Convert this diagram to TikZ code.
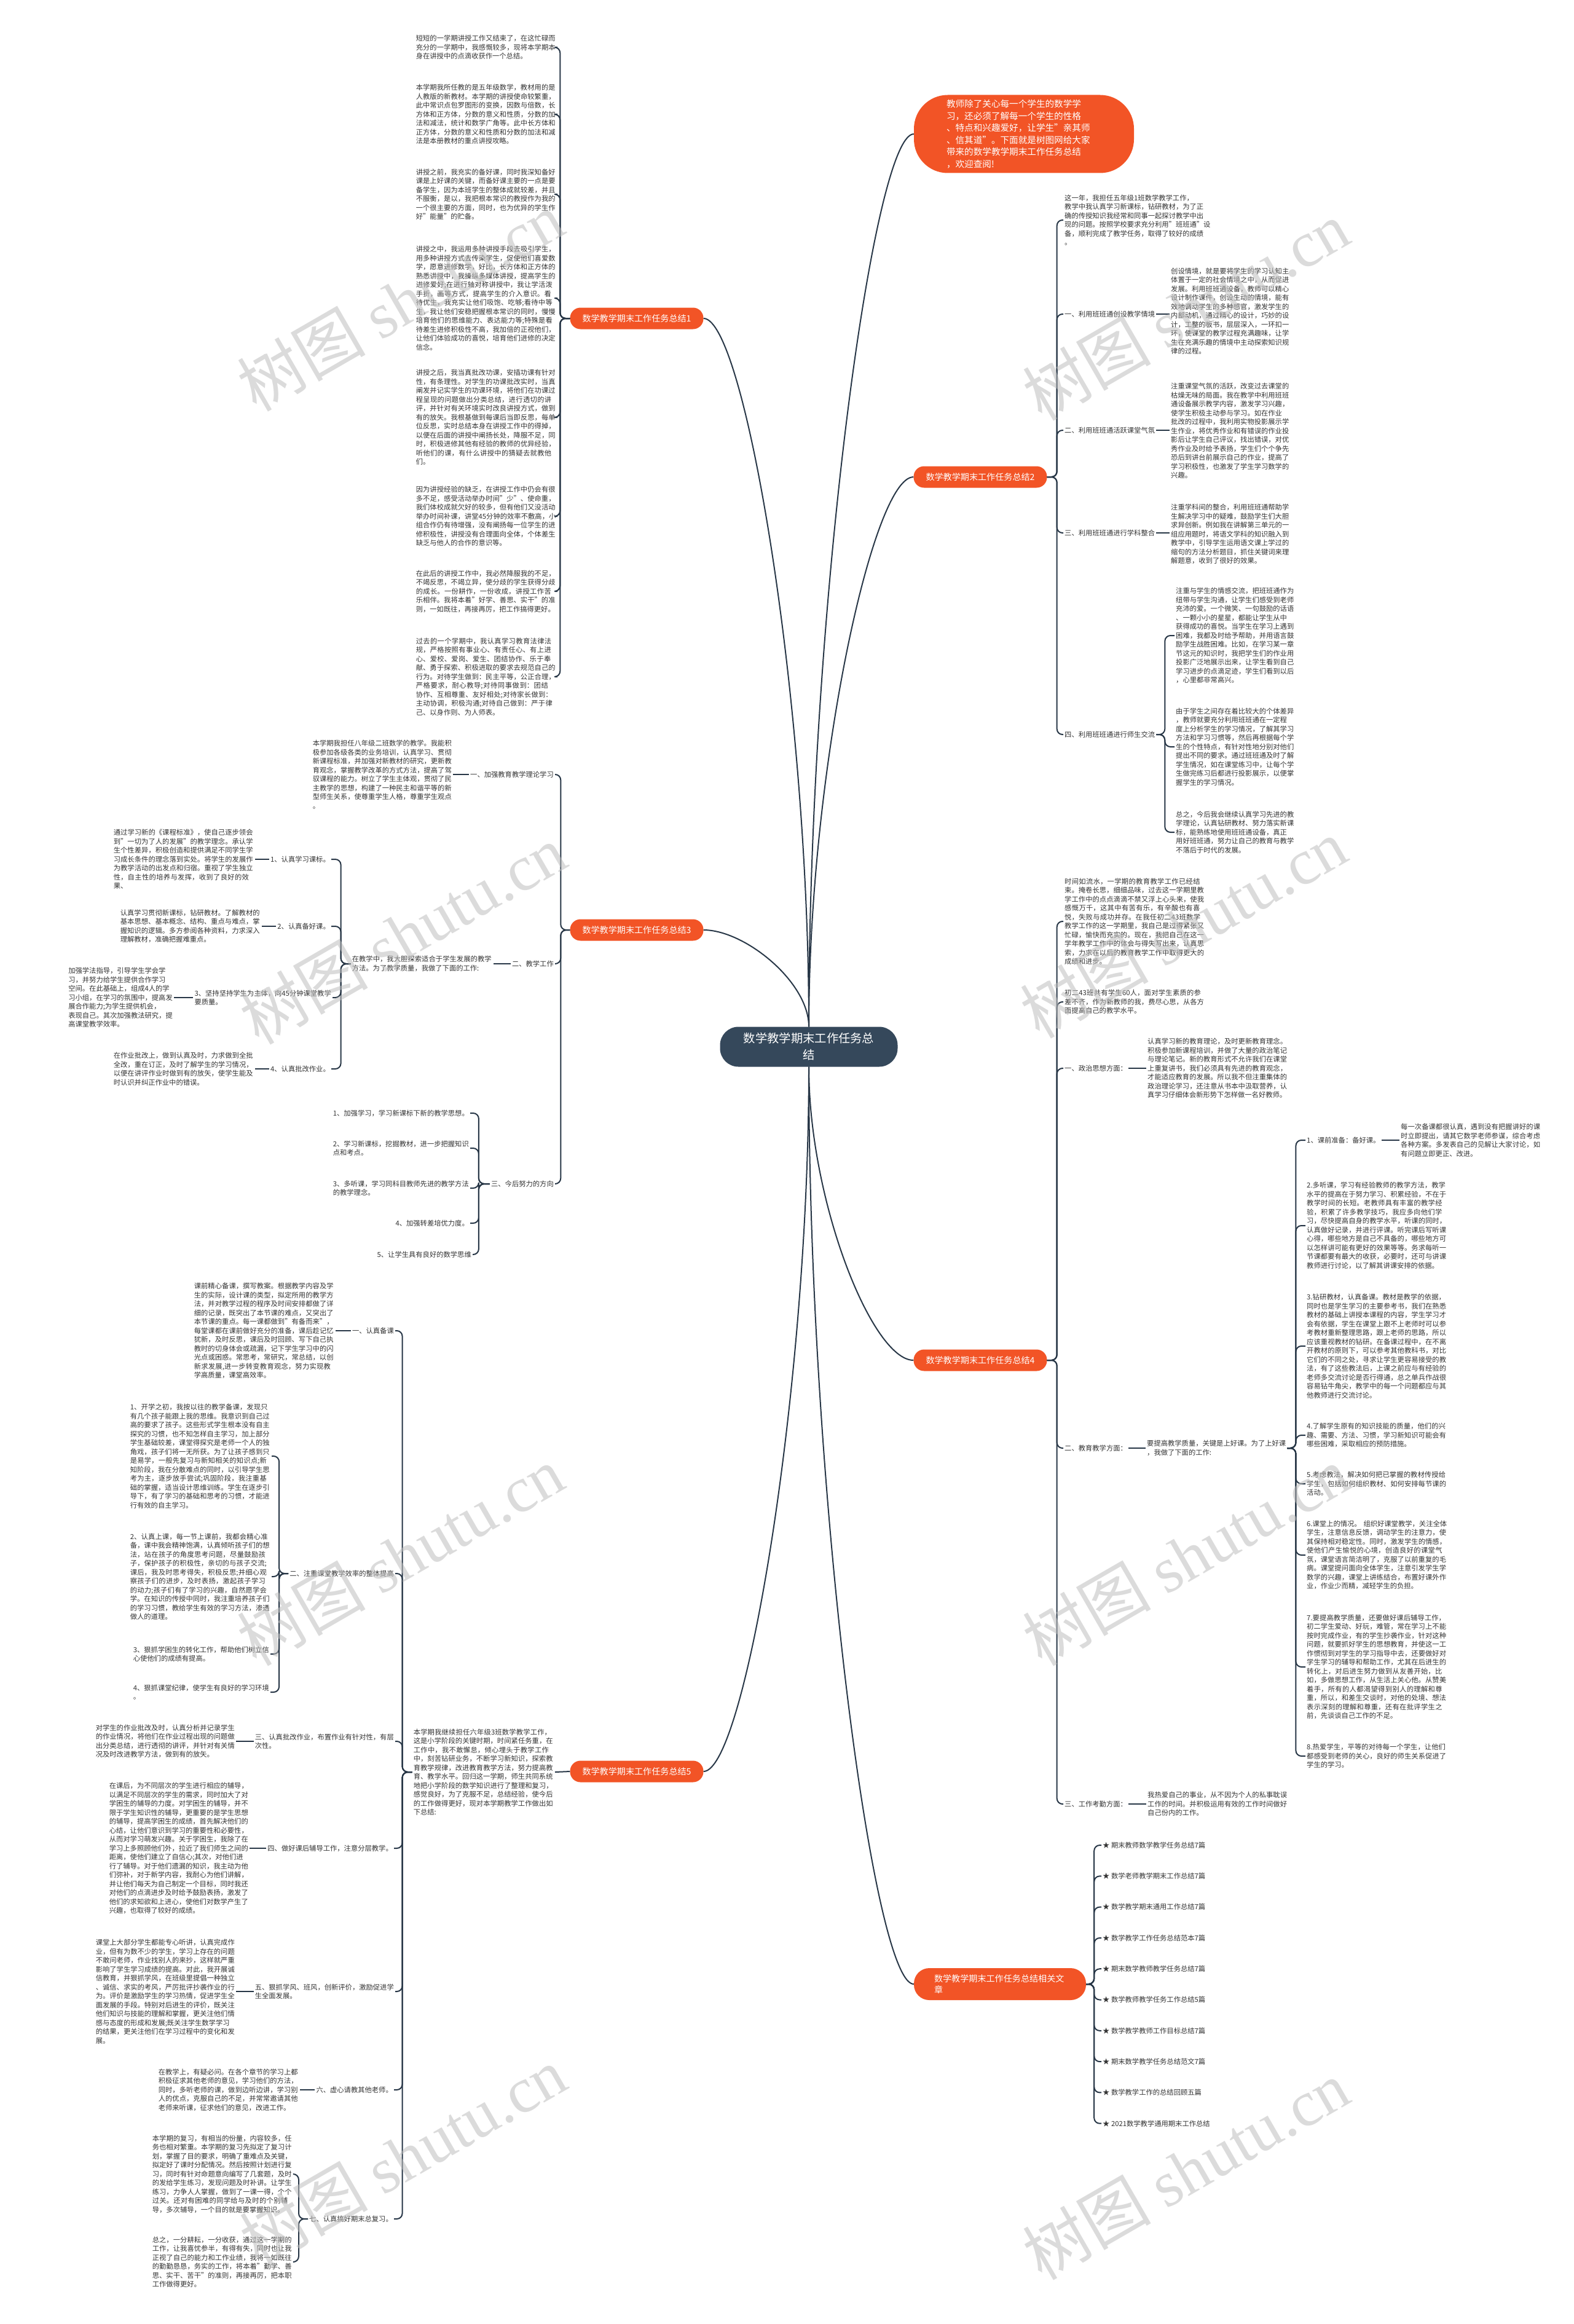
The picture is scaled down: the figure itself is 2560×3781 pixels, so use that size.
\documentclass[tikz,border=0pt]{standalone}
\usepackage{fontspec}
\setmainfont{Noto Sans CJK SC}
\newfontfamily\wmfont{Liberation Serif}
\usetikzlibrary{positioning}
\XeTeXlinebreaklocale "zh"
\XeTeXlinebreakskip=0pt plus 1pt
\definecolor{linec}{RGB}{40,55,71}
\definecolor{textc}{RGB}{51,51,51}
\definecolor{branchc}{RGB}{242,84,38}
\definecolor{rootc}{RGB}{53,72,91}
\definecolor{wmc}{RGB}{190,190,190}
\tikzset{
  link/.style={draw=linec, line width=2pt, rounded corners=9pt},
  txt/.style={font=\fontsize{11.3}{14.5}\selectfont, text=textc, text width=228pt, align=left, inner sep=2pt},
  para/.style={font=\fontsize{11.3}{14.5}\selectfont, text=textc, align=left, inner sep=2pt},
  lbl/.style={font=\fontsize{11.3}{14.5}\selectfont, text=textc, inner sep=2pt},
  branch/.style={fill=branchc, text=white, font=\fontsize{14.1}{18}\selectfont, rounded corners=17pt, minimum width=217pt, minimum height=35pt, inner sep=0pt},
  rootbox/.style={fill=rootc, text=white, font=\fontsize{19.3}{27}\selectfont, rounded corners=30pt, minimum width=289pt, minimum height=65pt, text width=214pt, align=center, inner sep=0pt},
  introbox/.style={fill=branchc, text=white, font=\fontsize{14.6}{19.5}\selectfont, rounded corners=55pt, minimum width=358pt, minimum height=127pt, text width=240pt, align=left, inner sep=0pt},
  wmark/.style={text=wmc, opacity=0.55, rotate=30, font=\fontsize{105}{105}\selectfont}
}
\begin{document}
\begin{tikzpicture}[x=1pt,y=-1pt]
\useasboundingbox (0,0) rectangle (2560,3781);

% centre and main branches
\node[rootbox] (root) at (1316,1703) {数学教学期末工作任务总\\结};
\node[introbox] (intro) at (1666,218) {\hspace*{-6pt}教师除了关心每一个学生的数学学\\\hspace*{-6pt}习，还必须了解每一个学生的性格\\\hspace*{-6pt}、特点和兴趣爱好，让学生"亲其师\\\hspace*{-6pt}、信其道"。下面就是树图网给大家\\\hspace*{-6pt}带来的数学教学期末工作任务总结\\\hspace*{-6pt}，欢迎查阅!};
\node[branch] (b1) at (1036,518) {数学教学期末工作任务总结1};
\node[branch] (b2) at (1595,776) {数学教学期末工作任务总结2};
\node[branch] (b3) at (1036,1513) {数学教学期末工作任务总结3};
\node[branch] (b4) at (1595,2213) {数学教学期末工作任务总结4};
\node[branch] (b5) at (1036,2882) {数学教学期末工作任务总结5};
\node[branch, minimum width=280pt, minimum height=52pt, text width=214pt, align=left, rounded corners=25pt] (rel) at (1627,3228) {数学教学期末工作任务总结相关文\\章};

\draw[link] (root.north) .. controls +(0,-668) and +(-67,0) .. (intro.west);
\draw[link] (root.north) .. controls +(0,-412) and +(-67,0) .. (b2.west);
\draw[link] (root.north) .. controls +(0,-530) and +(67,0) .. (b1.east);
\draw[link] (root.north) .. controls +(0,-73) and +(67,0) .. (b3.east);
\draw[link] (root.south) .. controls +(0,219) and +(-67,0) .. (b4.west);
\draw[link] (root.south) .. controls +(0,527) and +(67,0) .. (b5.east);
\draw[link] (root.south) .. controls +(0,686) and +(-67,0) .. (rel.west);

% branch 1
\node[txt, anchor=east] (t11) at (907,77) {短短的一学期讲授工作又结束了，在这忙碌而充分的一学期中，我感慨较多，现将本学期本身在讲授中的点滴收获作一个总结。};
\node[txt, anchor=east] (t12) at (907,186) {本学期我所任教的是五年级数学，教材用的是人教版的新教材。本学期的讲授使命较繁重，此中常识点包罗图形的变换，因数与倍数，长方体和正方体，分数的意义和性质，分数的加法和减法，统计和数学广角等。此中长方体和正方体，分数的意义和性质和分数的加法和减法是本册教材的重点讲授攻略。};
\node[txt, anchor=east] (t13) at (907,316) {讲授之前，我充实的备好课，同时我深知备好课是上好课的关键，而备好课主要的一点是要备学生，因为本班学生的整体成就较差，并且不服衡，是以，我把根本常识的教授作为我的一个很主要的方面，同时，也为优异的学生作好"能量"的贮备。};
\node[txt, anchor=east] (t14) at (907,485) {讲授之中，我运用多种讲授手段去吸引学生，用多种讲授方式去传染学生，促使他们喜爱数学，愿意进修数学，好比，长方体和正方体的熟悉讲授中，我操纵多媒体讲授，提高学生的进修爱好;在进行轴对称讲授中，我让学活泼手折，画等方式，提高学生的介入意识。看待优生，我充实让他们吸饱、吃够;看待中等生，我让他们安稳把握根本常识的同时，慢慢培育他们的思维能力、表达能力等;特殊是看待差生进修积极性不高，我加倍的正视他们，让他们体验成功的喜悦，培育他们进修的决定信念。};
\node[txt, anchor=east] (t15) at (907,679) {讲授之后，我当真批改功课，安插功课有针对性，有条理性。对学生的功课批改实时，当真阐发并记实学生的功课环境，将他们在功课过程呈现的问题做出分类总结，进行透切的讲评，并针对有关环境实时改良讲授方式，做到有的放矢。我根基做到每课后当即反思，每单位反思，实时总结本身在讲授工作中的得掉，以便在后面的讲授中阐扬长处，降服不足，同时，积极进修其他有经验的教师的优异经验，听他们的课，有什么讲授中的猜疑去就教他们。};
\node[txt, anchor=east] (t16) at (907,840) {因为讲授经验的缺乏，在讲授工作中仍会有很多不足，感受活动举办时间"少"、使命重，我们体校成就欠好的较多，但有他们又没活动举办时间补课，讲堂45分钟的效率不敷高，小组合作仍有待增强，没有阐扬每一位学生的进修积极性，讲授没有合理面向全体，个体差生缺乏与他人的合作的意识等。};
\node[txt, anchor=east] (t17) at (907,962) {在此后的讲授工作中，我必然降服我的不足，不竭反思，不竭立异，使分歧的学生获得分歧的成长。一份耕作，一份收成，讲授工作苦乐相伴。我将本着"好学、善思、实干"的准则，一如既往，再接再厉，把工作搞得更好。};
\node[txt, anchor=east] (t18) at (907,1101) {过去的一个学期中，我认真学习教育法律法规，严格按照有事业心、有责任心、有上进心、爱校、爱岗、爱生、团结协作、乐于奉献、勇于探索、积极进取的要求去规范自己的行为。对待学生做到：民主平等，公正合理，严格要求，耐心教导;对待同事做到：团结协作、互相尊重、友好相处;对待家长做到：主动协调，积极沟通;对待自己做到：严于律己、以身作则、为人师表。};
\foreach \c in {t11,t12,t13,t14,t15,t16,t17,t18}
  \draw[link] (b1.west) -- ++(-16,0) |- (\c.east);

% branch 2
\node[para, anchor=west] (t20) at (1730,358) {这一年，我担任五年级1班数学教学工作，\\教学中我认真学习新课标，钻研教材，为了正\\确的传授知识我经常和同事一起探讨教学中出\\现的问题。按照学校要求充分利用"班班通"设\\备，顺利完成了教学任务，取得了较好的成绩\\。};
\node[lbl, anchor=west] (l21) at (1730,511) {一、利用班班通创设教学情境};
\node[lbl, anchor=west] (l22) at (1730,700) {二、利用班班通活跃课堂气氛};
\node[lbl, anchor=west] (l23) at (1730,867) {三、利用班班通进行学科整合};
\node[lbl, anchor=west] (l24) at (1730,1195) {四、利用班班通进行师生交流};
\node[para, anchor=west] (t21) at (1903,506) {创设情境，就是要将学生的学习认知主\\体置于一定的社会情境之中，从而促进\\发展。利用班班通设备，教师可以精心\\设计制作课件，创设生动的情境，能有\\效地调动学生的多种感官，激发学生的\\内部动机，通过精心的设计，巧妙的设\\计，工整的板书，层层深入，一环扣一\\环，使课堂的教学过程充满趣味，让学\\生在充满乐趣的情境中主动探索知识规\\律的过程。};
\node[para, anchor=west] (t22) at (1903,701) {注重课堂气氛的活跃，改变过去课堂的\\枯燥无味的局面。我在教学中利用班班\\通设备展示教学内容，激发学习兴趣，\\使学生积极主动参与学习。如在作业\\批改的过程中，我利用实物投影展示学\\生作业，将优秀作业和有错误的作业投\\影后让学生自己评议，找出错误，对优\\秀作业及时给予表扬，学生们个个争先\\恐后到讲台前展示自己的作业，提高了\\学习积极性，也激发了学生学习数学的\\兴趣。};
\node[para, anchor=west] (t23) at (1903,869) {注重学科间的整合，利用班班通帮助学\\生解决学习中的疑难，鼓励学生们大胆\\求异创新。例如我在讲解第三单元的一\\组应用题时，将语文学科的知识融入到\\教学中，引导学生运用语文课上学过的\\缩句的方法分析题目，抓住关键词来理\\解题意，收到了很好的效果。};
\node[para, anchor=west] (t24a) at (1911,1034) {注重与学生的情感交流，把班班通作为\\纽带与学生沟通，让学生们感受到老师\\充沛的爱。一个微笑、一句鼓励的话语\\、一颗小小的星星，都能让学生从中\\获得成功的喜悦。当学生在学习上遇到\\困难，我都及时给予帮助，并用语言鼓\\励学生战胜困难。比如，在学习某一章\\节这元的知识时，我把学生们的作业用\\投影广泛地展示出来，让学生看到自己\\学习进步的点滴足迹，学生们看到以后\\，心里都非常高兴。};
\node[para, anchor=west] (t24b) at (1911,1215) {由于学生之间存在着比较大的个体差异\\，教师就要充分利用班班通在一定程\\度上分析学生的学习情况，了解其学习\\方法和学习习惯等，然后再根据每个学\\生的个性特点，有针对性地分别对他们\\提出不同的要求。通过班班通及时了解\\学生情况，如在课堂练习中，让每个学\\生做完练习后都进行投影展示，以便掌\\握学生的学习情况。};
\node[para, anchor=west] (t24c) at (1911,1354) {总之，今后我会继续认真学习先进的教\\学理论，认真钻研教材、努力落实新课\\标，能熟练地使用班班通设备，真正\\用好班班通，努力让自己的教育与教学\\不落后于时代的发展。};
\foreach \c in {t20,l21,l22,l23,l24}
  \draw[link] (b2.east) -- ++(16,0) |- (\c.west);
\draw[link] (l21.east) -- (l21.east -| t21.west);
\draw[link] (l22.east) -- (l22.east -| t22.west);
\draw[link] (l23.east) -- (l23.east -| t23.west);
\foreach \c in {t24a,t24b,t24c}
  \draw[link] (l24.east) -- ++(14,0) |- (\c.west);

% branch 3
\node[lbl, anchor=east] (l31) at (903,1260) {一、加强教育教学理论学习};
\node[lbl, anchor=east] (l32) at (903,1568) {二、教学工作};
\node[lbl, anchor=east] (l33) at (903,1926) {三、今后努力的方向};
\node[para, anchor=east] (t31) at (737,1260) {本学期我担任八年级二班数学的教学。我能积\\极参加各级各类的业务培训，认真学习、贯彻\\新课程标准，并加强对新教材的研究，更新教\\育观念，掌握教学改革的方式方法，提高了驾\\驭课程的能力。树立了学生主体观，贯彻了民\\主教学的思想，构建了一种民主和谐平等的新\\型师生关系，使尊重学生人格，尊重学生观点\\。};
\node[txt, anchor=east] (t32) at (803,1568) {在教学中，我大胆探索适合于学生发展的教学方法。为了教学质量，我做了下面的工作:};
\node[lbl, anchor=east] (i321) at (539,1398) {1、认真学习课标。};
\node[lbl, anchor=east] (i322) at (539,1507) {2、认真备好课。};
\node[para, anchor=east] (i323) at (541,1623) {3、坚持坚持学生为主体，向45分钟课堂教学\\要质量。};
\node[lbl, anchor=east] (i324) at (539,1739) {4、认真批改作业。};
\node[txt, anchor=east] (t321) at (415,1398) {通过学习新的《课程标准》，使自己逐步领会到"一切为了人的发展"的教学理念。承认学生个性差异，积极创造和提供满足不同学生学习成长条件的理念落到实处。将学生的发展作为教学活动的出发点和归宿。重视了学生独立性，自主性的培养与发挥，收到了良好的效果、};
\node[txt, anchor=east] (t322) at (426,1507) {认真学习贯彻新课标，钻研教材。了解教材的基本思想、基本概念、结构、重点与难点，掌握知识的逻辑。多方参阅各种资料，力求深入理解教材，准确把握难重点。};
\node[para, anchor=east] (t323) at (283,1623) {加强学法指导，引导学生学会学\\习，并努力给学生提供合作学习\\空间。在此基础上，组成4人的学\\习小组，在学习的氛围中，提高发\\展合作能力;为学生提供机会，\\表现自己。其次加强教法研究，提\\高课堂教学效率。};
\node[txt, anchor=east] (t324) at (415,1739) {在作业批改上，做到认真及时，力求做到全批全改，重在订正，及时了解学生的学习情况，以便在讲评作业时做到有的放矢，使学生能及时认识并纠正作业中的错误。};
\node[lbl, anchor=east] (i331) at (765,1811) {1、加强学习，学习新课标下新的教学思想。};
\node[para, anchor=east] (i332) at (765,1868) {2、学习新课标，挖掘教材，进一步把握知识\\点和考点。};
\node[para, anchor=east] (i333) at (765,1933) {3、多听课，学习同科目教师先进的教学方法\\的教学理念。};
\node[lbl, anchor=east] (i334) at (765,1990) {4、加强转差培优力度。};
\node[lbl, anchor=east] (i335) at (769,2041) {5、让学生具有良好的数学思维};
\foreach \c in {l31,l32,l33}
  \draw[link] (b3.west) -- ++(-15,0) |- (\c.east);
\draw[link] (l31.west) -- (t31.east);
\draw[link] (l32.west) -- (t32.east);
\foreach \c in {i321,i322,i323,i324}
  \draw[link] (t32.west) -- ++(-16,0) |- (\c.east);
\draw[link] (i321.west) -- (t321.east);
\draw[link] (i322.west) -- (t322.east);
\draw[link] (i323.west) -- (t323.east);
\draw[link] (i324.west) -- (t324.east);
\foreach \c in {i331,i332,i333,i334,i335}
  \draw[link] (l33.west) -- ++(-18,0) |- (\c.east);

% branch 4
\node[txt, anchor=west] (t40) at (1730,1499) {时间如流水，一学期的教育教学工作已经结束。掩卷长思，细细品味，过去这一学期里教学工作中的点点滴滴不禁又浮上心头来，使我感慨万千，这其中有苦有乐，有辛酸也有喜悦，失败与成功并存。在我任初二43班数学教学工作的这一学期里，我自己是过得紧张又忙碌，愉快而充实的。现在，我把自己在这一学年教学工作中的体会与得失写出来，认真思索，力求在以后的教育教学工作中取得更大的成绩和进步。};
\node[txt, anchor=west] (t41) at (1730,1630) {初二43班共有学生60人，面对学生素质的参差不齐，作为新教师的我，费尽心思，从各方面提高自己的教学水平。};
\node[lbl, anchor=west] (l41) at (1730,1738) {一、政治思想方面：};
\node[lbl, anchor=west] (l42) at (1730,2356) {二、教育教学方面：};
\node[lbl, anchor=west] (l43) at (1730,2935) {三、工作考勤方面：};
\node[txt, anchor=west] (t41x) at (1865,1738) {认真学习新的教育理论，及时更新教育理念。积极参加新课程培训，并做了大量的政治笔记与理论笔记。新的教育形式不允许我们在课堂上重复讲书，我们必须具有先进的教育观念，才能适应教育的发展。所以我不但注重集体的政治理论学习，还注意从书本中汲取营养，认真学习仔细体会新形势下怎样做一名好教师。};
\node[para, anchor=west] (t42) at (1864,2356) {要提高教学质量，关键是上好课。为了上好课\\，我做了下面的工作:};
\node[txt, anchor=west] (t43) at (1865,2935) {我热爱自己的事业，从不因为个人的私事耽误工作的时间。并积极运用有效的工作时间做好自己份内的工作。};
\node[lbl, anchor=west] (q1) at (2124,1855) {1、课前准备：备好课。};
\node[txt, anchor=west] (q1x) at (2277,1855) {每一次备课都很认真，遇到没有把握讲好的课时立即提出，请其它数学老师参谋，综合考虑各种方案。多发表自己的见解让大家讨论，如有问题立即更正、改进。};
\node[txt, anchor=west] (q2) at (2124,1994) {2.多听课，学习有经验教师的教学方法，教学水平的提高在于努力学习、积累经验，不在于教学时间的长短。老教师具有丰富的教学经验，积累了许多教学技巧，我应多向他们学习，尽快提高自身的教学水平，听课的同时，认真做好记录，并进行评课。听完课后写听课心得，哪些地方是自己不具备的，哪些地方可以怎样讲可能有更好的效果等等。务求每听一节课都要有最大的收获，必要时，还可与讲课教师进行讨论，以了解其讲课安排的依据。};
\node[txt, anchor=west] (q3) at (2124,2190) {3.钻研教材，认真备课。教材是教学的依据，同时也是学生学习的主要参考书，我们在熟悉教材的基础上讲授本课程的内容，学生学习才会有依据，学生在课堂上跟不上老师时可以参考教材重新整理思路，跟上老师的思路，所以应该重视教材的钻研。在备课过程中，在不离开教材的原则下，可以参考其他教科书，对比它们的不同之处，寻求让学生更容易接受的教法，有了这些教法后，上课之前应与有经验的老师多交流讨论是否行得通，总之单兵作战很容易钻牛角尖，教学中的每一个问题都应与其他教师进行交流讨论。};
\node[txt, anchor=west] (q4) at (2124,2335) {4.了解学生原有的知识技能的质量，他们的兴趣、需要、方法、习惯，学习新知识可能会有哪些困难，采取相应的预防措施。};
\node[txt, anchor=west] (q5) at (2124,2414) {5.考虑教法，解决如何把已掌握的教材传授给学生，包括如何组织教材、如何安排每节课的活动。};
\node[txt, anchor=west] (q6) at (2124,2530) {6.课堂上的情况。 组织好课堂教学，关注全体学生，注意信息反馈，调动学生的注意力，使其保持相对稳定性。同时，激发学生的情感，使他们产生愉悦的心境，创造良好的课堂气氛，课堂语言简洁明了，克服了以前重复的毛病。课堂提问面向全体学生，注意引发学生学数学的兴趣，课堂上讲练结合，布置好课外作业，作业少而精，减轻学生的负担。};
\node[txt, anchor=west] (q7) at (2124,2712) {7.要提高教学质量，还要做好课后辅导工作，初二学生爱动、好玩，难管，常在学习上不能按时完成作业，有的学生抄袭作业，针对这种问题，就要抓好学生的思想教育，并使这一工作惯彻到对学生的学习指导中去，还要做好对学生学习的辅导和帮助工作，尤其在后进生的转化上，对后进生努力做到从友善开始，比如，多做思想工作，从生活上关心他。从赞美着手，所有的人都渴望得到别人的理解和尊重，所以，和差生交谈时，对他的处境、想法表示深刻的理解和尊重，还有在批评学生之前，先谈谈自己工作的不足。};
\node[txt, anchor=west] (q8) at (2124,2857) {8.热爱学生，平等的对待每一个学生，让他们都感受到老师的关心，良好的师生关系促进了学生的学习。};
\foreach \c in {t40,t41,l41,l42,l43}
  \draw[link] (b4.east) -- ++(16,0) |- (\c.west);
\draw[link] (l41.east) -- (t41x.west);
\draw[link] (l42.east) -- (t42.west);
\draw[link] (l43.east) -- (t43.west);
\foreach \c in {q1,q2,q3,q4,q5,q6,q7,q8}
  \draw[link] (t42.east) ++(14,0) coordinate (qs) (t42.east) -- (qs) |- (\c.west);
\draw[link] (q1.east) -- (q1x.west);

% branch 5
\node[txt, anchor=east] (t5) at (903,2883) {本学期我继续担任六年级3班数学教学工作，这是小学阶段的关键时期，时间紧任务重，在工作中，我不敢懈怠，倾心埋头于教学工作中，刻苦钻研业务，不断学习新知识，探索教育教学规律，改进教育教学方法，努力提高教育、教学水平。回归这一学期，师生共同系统地把小学阶段的数学知识进行了整理和复习，感觉良好，为了克服不足，总结经验，使今后的工作做得更好，现对本学期教学工作做出如下总结:};
\node[lbl, anchor=east] (i51) at (643,2165) {一、认真备课};
\node[lbl, anchor=east] (i52) at (643,2560) {二、注重课堂教学效率的整体提高};
\node[para, anchor=east] (i53) at (643,2833) {三、认真批改作业，布置作业有针对性，有层\\次性。};
\node[lbl, anchor=east] (i54) at (641,3007) {四、做好课后辅导工作，注意分层教学。};
\node[para, anchor=east] (i55) at (643,3240) {五、狠抓学风、班风，创新评价，激励促进学\\生全面发展。};
\node[lbl, anchor=east] (i56) at (641,3400) {六、虚心请教其他老师。};
\node[lbl, anchor=east] (i57) at (641,3610) {七、认真搞好期末总复习。};
\node[txt, anchor=east] (t51) at (546,2165) {课前精心备课，撰写教案。根据教学内容及学生的实际，设计课的类型，拟定所用的教学方法，并对教学过程的程序及时间安排都做了详细的记录，既突出了本节课的难点，又突出了本节课的重点。每一课都做到"有备而来"，每堂课都在课前做好充分的准备，课后趁记忆犹新，及时反思，课后及时回顾、写下自己执教时的切身体会或疏漏，记下学生学习中的闪光点或困惑。常思考，常研究，常总结，以创新求发展,进一步转变教育观念，努力实现教学高质量，课堂高效率。};
\node[txt, anchor=east] (s1) at (442,2369) {1、开学之初，我按以往的教学备课，发现只有几个孩子能跟上我的思维。我意识到自己过高的要求了孩子。这些形式学生根本没有自主探究的习惯，也不知怎样自主学习，加上部分学生基础较差，课堂得探究是老师一个人的独角戏，孩子们将一无所获。为了让孩子感到只是易学，一般先复习与新知相关的知识点;新知阶段，我在分散难点的同时，以引导学生思考为主，逐步放手尝试;巩固阶段，我注重基础的掌握，适当设计思维训练。学生在逐步引导下，有了学习的基础和思考的习惯，才能进行有效的自主学习。};
\node[txt, anchor=east] (s2) at (442,2565) {2、认真上课，每一节上课前，我都会精心准备，课中我会精神饱满，认真倾听孩子们的想法，站在孩子的角度思考问题，尽量鼓励孩子，保护孩子的积极性，亲切的与孩子交流;课后，我及时思考得失，积极反思;并细心观察孩子们的进步，及时表扬，激起孩子学习的动力;孩子们有了学习的兴趣，自然愿学会学。在知识的传授中同时，我注重培养孩子们的学习习惯，教给学生有效的学习方法，渗透做人的道理。};
\node[para, anchor=east] (s3) at (440,2691) {3、狠抓学困生的转化工作，帮助他们树立信\\心使他们的成绩有提高。};
\node[para, anchor=east] (s4) at (440,2753) {4、狠抓课堂纪律，使学生有良好的学习环境\\。};
\node[para, anchor=east] (t53) at (384,2833) {对学生的作业批改及时，认真分析并记录学生\\的作业情况，将他们在作业过程出现的问题做\\出分类总结，进行透彻的讲评，并针对有关情\\况及时改进教学方法，做到有的放矢。};
\node[para, anchor=east] (t54) at (406,3007) {在课后，为不同层次的学生进行相应的辅导，\\以满足不同层次的学生的需求，同时加大了对\\学困生的辅导的力度。对学困生的辅导，并不\\限于学生知识性的辅导，更重要的是学生思想\\的辅导，提高学困生的成绩，首先解决他们的\\心结，让他们意识到学习的重要性和必要性，\\从而对学习萌发兴趣。关于学困生，我除了在\\学习上多照顾他们外，拉近了我们师生之间的\\距离，使他们建立了自信心;其次，对他们进\\行了辅导。对于他们遗漏的知识，我主动为他\\们弥补，对于新学内容，我耐心为他们讲解，\\并让他们每天为自己制定一个目标，同时我还\\对他们的点滴进步及时给予鼓励表扬，激发了\\他们的求知欲和上进心，使他们对数学产生了\\兴趣，也取得了较好的成绩。};
\node[para, anchor=east] (t55) at (384,3240) {课堂上大部分学生都能专心听讲，认真完成作\\业，但有为数不少的学生，学习上存在的问题\\不敢问老师，作业找别人的来抄，这样就严重\\影响了学生学习成绩的提高。对此，我开展诚\\信教育，并狠抓学风，在班级里提倡一种独立\\、诚信、求实的考风，严厉批评抄袭作业的行\\为。评价是激励学生的学习热情，促进学生全\\面发展的手段。特别对后进生的评价，既关注\\他们知识与技能的理解和掌握，更关注他们情\\感与态度的形成和发展;既关注学生数学学习\\的结果，更关注他们在学习过程中的变化和发\\展。};
\node[txt, anchor=east] (t56) at (488,3400) {在教学上，有疑必问。在各个章节的学习上都积极征求其他老师的意见，学习他们的方法，同时，多听老师的课，做到边听边讲，学习别人的优点，克服自己的不足，并常常邀请其他老师来听课，征求他们的意见，改进工作。};
\node[txt, anchor=east] (u1) at (478,3537) {本学期的复习，有相当的份量，内容较多，任务也相对繁重。本学期的复习先拟定了复习计划，掌握了目的要求，明确了重难点及关键，拟定好了课时分配情况。然后按照计划进行复习，同时有针对命题意向编写了几套题，及时的发给学生练习，发现问题及时补讲。让学生练习，力争人人掌握，做到了一课一得，个个过关。还对有困难的同学给与及时的个别辅导，多次辅导，一个目的就是要掌握知识。};
\node[txt, anchor=east] (u2) at (478,3680) {总之，一分耕耘，一分收获，通过这一学期的工作，让我喜忧参半，有得有失，同时也让我正视了自己的能力和工作业绩，我将一如既往的勤勤恳恳，务实的工作，将本着"勤学、善思、实干、苦干"的准则，再接再厉，把本职工作做得更好。};
\draw[link] (b5.west) -- (t5.east);
\foreach \c in {i51,i52,i53,i54,i55,i56,i57}
  \draw[link] (t5.west) -- ++(-16,0) |- (\c.east);
\draw[link] (i51.west) -- (t51.east);
\draw[link] (i53.west) -- (t53.east);
\draw[link] (i54.west) -- (t54.east);
\draw[link] (i55.west) -- (t55.east);
\draw[link] (i56.west) -- (t56.east);
\foreach \c in {s1,s2,s3,s4}
  \draw[link] (i52.west) -- ++(-15,0) |- (\c.east);
\foreach \c in {u1,u2}
  \draw[link] (i57.west) -- ++(-15,0) |- (\c.east);

% related articles
\foreach \t [count=\i] in {期末教师数学教学任务总结7篇,数学老师教学期末工作总结7篇,数学教学期末通用工作总结7篇,数学教学工作任务总结范本7篇,期末数学教师教学任务总结7篇,数学教师教学任务工作总结5篇,数学教学教师工作目标总结7篇,期末数学教学任务总结范文7篇,数学教学工作的总结回顾五篇,2021数学教学通用期末工作总结}
{
  \node[lbl, anchor=west] (r\i) at (1792,2951.7+50.3*\i) {★ \t};
  \draw[link] (rel.east) -- ++(13,0) |- (r\i.west);
}

% watermark
\foreach \x/\y in {651/490,1929/505,655/1520,1925/1510,651/2531,1929/2531,655/3508,1929/3530}
  \node[wmark] at (\x,\y) {树图 {\wmfont shutu.cn}};
\end{tikzpicture}
\end{document}
